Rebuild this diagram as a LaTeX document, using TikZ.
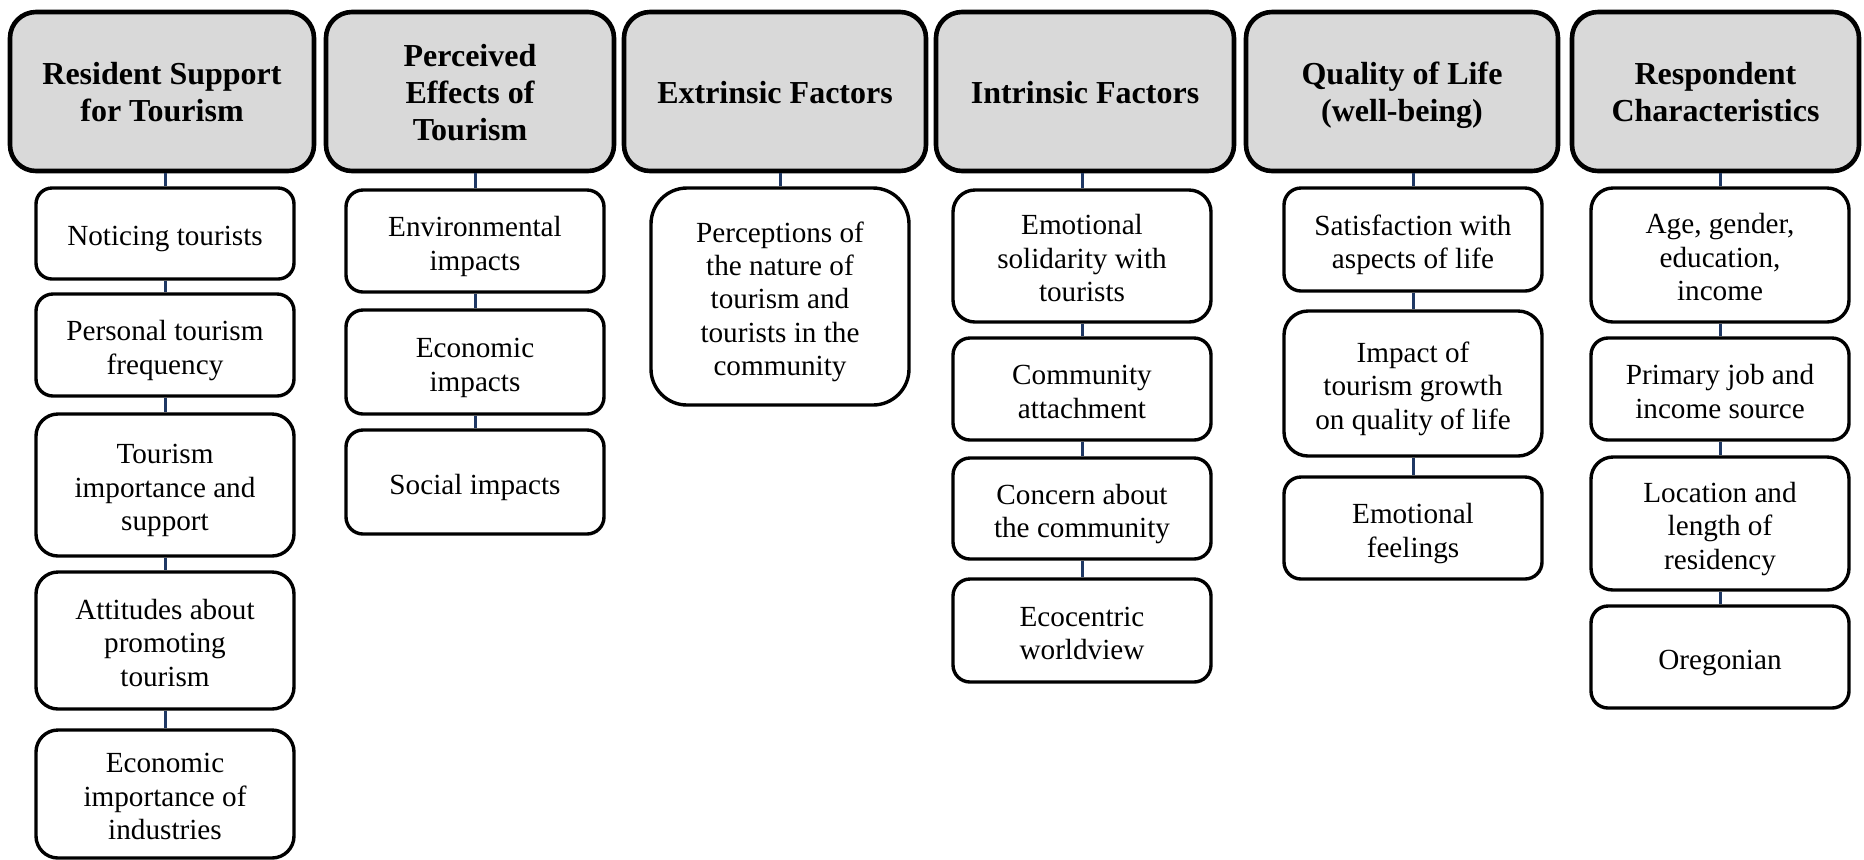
\documentclass[tikz,border=0pt]{standalone}
\usepackage{fontspec}
\setmainfont{Liberation Serif}
\definecolor{hdrgray}{RGB}{217,217,217}
\definecolor{connblue}{RGB}{31,56,100}
\newcommand{\HT}{\rule{0pt}{15.2pt}}
\newcommand{\ST}{\rule{0pt}{15.8pt}}
\newcommand{\SB}{\rule[-3.5pt]{0pt}{0pt}}
\begin{document}
\begin{tikzpicture}[x=0.5pt,y=-0.5pt,
  hdr/.style={draw=black, line width=2.3pt, fill=hdrgray, align=center,
    font=\fontsize{16}{18.4}\selectfont\bfseries, inner sep=0pt,
    minimum height=79.5pt, rounded corners=13pt},
  sub/.style={draw=black, line width=1.7pt, fill=white, align=center,
    font=\fontsize{14.6}{16.7}\selectfont, inner sep=0pt,
    minimum width=129pt, rounded corners=#1},
  sub/.default=8.5pt,
  conn/.style={draw=connblue, line width=1.5pt}]
\useasboundingbox (0,0) rectangle (1864,859);

% headers
\node[hdr, minimum width=152pt]   (h1) at (162,91.5)    {\HT Resident Support\\for Tourism\SB};
\node[hdr, minimum width=144pt]   (h2) at (470,91.5)    {\HT Perceived\\Effects of\\Tourism\SB};
\node[hdr, minimum width=151pt]   (h3) at (775,91.5)    {\HT Extrinsic Factors\SB};
\node[hdr, minimum width=149pt]   (h4) at (1085,91.5)   {\HT Intrinsic Factors\SB};
\node[hdr, minimum width=156pt]   (h5) at (1402,91.5)   {\HT Quality of Life\\(well-being)\SB};
\node[hdr, minimum width=143.5pt] (h6) at (1715.5,91.5) {\HT Respondent\\Characteristics\SB};

% column 1
\node[sub=8pt, minimum height=45.5pt] (a1) at (165,233.5) {\ST Noticing tourists\SB};
\node[sub, minimum height=51pt]       (a2) at (165,345)   {\ST Personal tourism\\frequency\SB};
\node[sub=11pt, minimum height=71pt]  (a3) at (165,485)   {\ST Tourism\\importance and\\support\SB};
\node[sub=11pt, minimum height=68.5pt](a4) at (165,640.5) {\ST Attitudes about\\promoting\\tourism\SB};
\node[sub=11pt, minimum height=64pt]  (a5) at (165,794)   {\ST Economic\\importance of\\industries\SB};

% column 2
\node[sub, minimum height=51pt] (b1) at (475,241) {\ST Environmental\\impacts\SB};
\node[sub, minimum height=52pt] (b2) at (475,362) {\ST Economic\\impacts\SB};
\node[sub, minimum height=52pt] (b3) at (475,482) {\ST Social impacts\SB};

% column 3
\node[sub=18pt, minimum height=108.5pt] (c1) at (780,296.5) {\ST Perceptions of\\the nature of\\tourism and\\tourists in the\\community\SB};

% column 4
\node[sub=11pt, minimum height=66pt] (d1) at (1082,256)   {\ST Emotional\\solidarity with\\tourists\SB};
\node[sub, minimum height=51pt]      (d2) at (1082,389)   {\ST Community\\attachment\SB};
\node[sub, minimum height=50.5pt]    (d3) at (1082,508.5) {\ST Concern about\\the community\SB};
\node[sub, minimum height=51.5pt]    (d4) at (1082,630.5) {\ST Ecocentric\\worldview\SB};

% column 5
\node[sub, minimum height=51.5pt]     (e1) at (1413,239.5) {\ST Satisfaction with\\aspects of life\SB};
\node[sub=12pt, minimum height=72.5pt](e2) at (1413,383.5) {\ST Impact of\\tourism growth\\on quality of life\SB};
\node[sub, minimum height=51pt]       (e3) at (1413,528)   {\ST Emotional\\feelings\SB};

% column 6
\node[sub=11pt, minimum height=67pt]  (f1) at (1720,255)   {\ST Age, gender,\\education,\\income\SB};
\node[sub, minimum height=51pt]       (f2) at (1720,389)   {\ST Primary job and\\income source\SB};
\node[sub=11pt, minimum height=66.5pt](f3) at (1720,523.5) {\ST Location and\\length of\\residency\SB};
\node[sub, minimum height=51pt]       (f4) at (1720,657)   {\ST Oregonian\SB};

% connectors
\foreach \h/\b in {h1/a1,h2/b1,h3/c1,h4/d1,h5/e1,h6/f1}
  \draw[conn] (\b.north) -- (\b.north |- \h.south);
\foreach \u/\v in {a1/a2,a2/a3,a3/a4,a4/a5,b1/b2,b2/b3,d1/d2,d2/d3,d3/d4,e1/e2,e2/e3,f1/f2,f2/f3,f3/f4}
  \draw[conn] (\u.south) -- (\v.north);
\end{tikzpicture}
\end{document}
